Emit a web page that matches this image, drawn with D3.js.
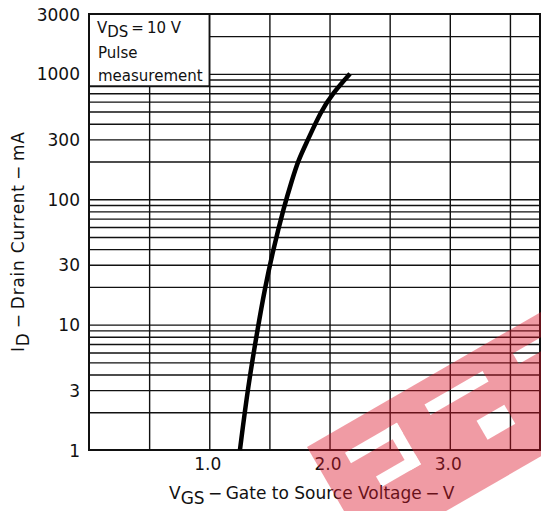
<!DOCTYPE html>
<html>
<head>
<meta charset="utf-8">
<script src="https://cdn.jsdelivr.net/npm/d3@7"></script>
<style>
  html, body { margin: 0; padding: 0; background: #fff; }
  svg { display: block; }
  text { font-family: "DejaVu Sans", sans-serif; fill: #111; }
</style>
</head>
<body>
<svg id="chart" width="541" height="511"></svg>
<script>
// ---- data ----
const vgs = [1.255, 1.322, 1.405, 1.463, 1.530, 1.621, 1.688, 1.740, 1.820, 1.925, 2.029, 2.170];
const drainCurrent = [1, 3.2, 9.6, 19.6, 39, 87, 142, 205, 297, 496, 703, 1000];
const xTickLabels = [1.0, 2.0, 3.0];
const xGridValues = [0.5, 1.0, 1.5, 2.0, 2.5, 3.0, 3.5];
const yTickLabels = [1, 3, 10, 30, 100, 300, 1000, 3000];
const yGridValues = [2, 3, 4, 5, 6, 7, 8, 9, 10, 20, 30, 40, 50, 60, 70, 80, 90,
                     100, 200, 300, 400, 500, 600, 700, 800, 900, 1000, 2000];
const xDomain = [0, 3.75];
const yDomain = [1, 3000];

// ---- layout ----
const L = 89, R = 540, T = 14, B = 450;
const svg = d3.select("#chart");
const x = d3.scaleLinear().domain(xDomain).range([L, R]);
const y = d3.scaleLog().domain(yDomain).range([B, T]);

// grid: vertical
svg.append("g")
  .attr("transform", `translate(0,${B})`)
  .call(d3.axisBottom(x).tickValues(xGridValues).tickSize(-(B - T)).tickFormat(""))
  .call(g => g.select(".domain").remove())
  .call(g => g.selectAll("line").attr("stroke", "#111").attr("stroke-width", 1.4));

// grid: horizontal
svg.append("g")
  .attr("transform", `translate(${L},0)`)
  .call(d3.axisLeft(y).tickValues(yGridValues).tickSize(-(R - L)).tickFormat(""))
  .call(g => g.select(".domain").remove())
  .call(g => g.selectAll("line").attr("stroke", "#111").attr("stroke-width", 1.4));

// annotation box (covers the grid in the top-left corner)
svg.append("rect")
  .attr("x", x(0)).attr("y", y(3000))
  .attr("width", x(1.0) - x(0)).attr("height", y(800) - y(3000))
  .attr("fill", "#fff").attr("stroke", "#111").attr("stroke-width", 1.4);

// frame
svg.append("rect")
  .attr("x", L).attr("y", T).attr("width", R - L).attr("height", B - T)
  .attr("fill", "none").attr("stroke", "#111").attr("stroke-width", 2);

// y tick labels
svg.append("g")
  .attr("transform", `translate(${L},0)`)
  .call(d3.axisLeft(y).tickValues(yTickLabels).tickSize(0).tickPadding(9).tickFormat(d3.format("d")))
  .call(g => g.select(".domain").remove())
  .call(g => g.selectAll("text")
    .style("font-family", '"DejaVu Sans", sans-serif')
    .style("font-size", "17px").attr("fill", "#111").attr("dy", "0.36em"));

// x tick labels
svg.append("g")
  .attr("transform", `translate(0,${B})`)
  .call(d3.axisBottom(x).tickValues(xTickLabels).tickSize(0).tickPadding(8).tickFormat(d3.format(".1f")))
  .call(g => g.select(".domain").remove())
  .call(g => g.selectAll("text")
    .style("font-family", '"DejaVu Sans", sans-serif')
    .style("font-size", "17px").attr("fill", "#111").attr("dx", "-2"));

// curve
const line = d3.line()
  .x((d, i) => x(vgs[i]))
  .y(d => y(d))
  .curve(d3.curveBasis);
svg.append("path")
  .datum(drainCurrent)
  .attr("d", line)
  .attr("fill", "none")
  .attr("stroke", "#000")
  .attr("stroke-width", 4.5)
  .attr("stroke-linecap", "butt");

// box text
const box = svg.append("g").style("font-size", "15px");
const t1 = box.append("text").attr("x", 97).attr("y", 33);
t1.append("tspan").text("V");
t1.append("tspan").attr("dy", 4).text("DS");
t1.append("tspan").attr("dy", -4).text("\u2009=\u200910 V");
box.append("text").attr("x", 98).attr("y", 58).text("Pulse");
box.append("text").attr("x", 98).attr("y", 81).text("measurement");

// x axis title
const xt = svg.append("text").attr("x", 169).attr("y", 499).style("font-size", "17px");
xt.append("tspan").text("V");
xt.append("tspan").attr("dy", 5).text("GS");
xt.append("tspan").attr("dy", -5).text("\u2009\u2212\u2009Gate to Source Voltage\u2009\u2212\u2009V");

// y axis title
const yt = svg.append("text")
  .attr("transform", "translate(24,352) rotate(-90)")
  .attr("textLength", 220).attr("lengthAdjust", "spacing")
  .style("font-size", "17px");
yt.append("tspan").text("I");
yt.append("tspan").attr("dy", 5).text("D");
yt.append("tspan").attr("dy", -5).text("\u2009\u2212\u2009Drain Current\u2009\u2212\u2009mA");

// watermark (semi-transparent red band with cut-outs)
const defs = svg.append("defs");
const mask = defs.append("mask").attr("id", "wm")
  .attr("maskUnits", "userSpaceOnUse").attr("x", 0).attr("y", 0).attr("width", 541).attr("height", 511);
const mg = mask.append("g").attr("transform", "translate(307,447) rotate(-30)");
mg.append("rect").attr("x", 0).attr("y", 0).attr("width", 420).attr("height", 125).attr("fill", "#fff");
const cuts = [[30,24,60,12],[78,24,12,48],[45,60,45,12],[123,22,67,12],[160,62,32,22],[225,22,60,12]];
mg.selectAll("rect.c").data(cuts).join("rect").attr("class", "c")
  .attr("x", d => d[0]).attr("y", d => d[1]).attr("width", d => d[2]).attr("height", d => d[3])
  .attr("fill", "#000");
svg.append("rect")
  .attr("x", 0).attr("y", 0).attr("width", 541).attr("height", 511)
  .attr("fill", "rgb(220,20,40)").attr("opacity", 0.42)
  .attr("mask", "url(#wm)");
</script>
</body>
</html>
